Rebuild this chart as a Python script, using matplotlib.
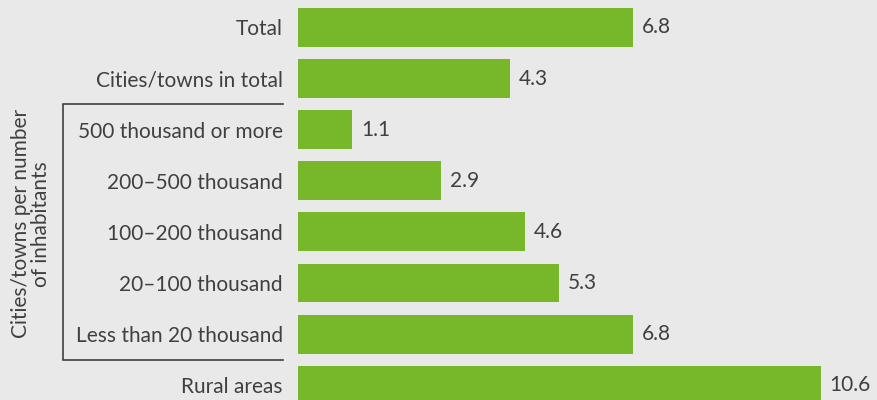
import matplotlib
matplotlib.use("Agg")
import matplotlib.pyplot as plt

categories = [
    "Total",
    "Cities/towns in total",
    "500 thousand or more",
    "200\u2013500 thousand",
    "100\u2013200 thousand",
    "20\u2013100 thousand",
    "Less than 20 thousand",
    "Rural areas",
]
values = [6.8, 4.3, 1.1, 2.9, 4.6, 5.3, 6.8, 10.6]
group_label = "Cities/towns per number\nof inhabitants"

BG = "#e9e9e9"
GREEN = "#77b82a"
TEXT = "#404040"
FS = 15

plt.rcParams["font.family"] = ["Lato", "DejaVu Sans"]

fig = plt.figure(figsize=(8.78, 4.0), dpi=100, facecolor=BG)
ax = fig.add_axes([298 / 878, 0, 580 / 878, 1])
ax.set_facecolor(BG)

pos = list(range(len(categories)))
ax.barh(pos, values, height=0.76, color=GREEN)
ax.set_xlim(0, 580 / 49.3)
ax.set_ylim(7.29, -0.538)

for y, v in zip(pos, values):
    ax.text(v + 0.18, y, f"{v:.1f}", va="center", ha="left",
            fontsize=FS, color=TEXT)

ax.set_yticks(pos)
ax.set_yticklabels(categories, fontsize=FS, color=TEXT)
ax.tick_params(axis="y", length=0, pad=11)
ax.set_xticks([])
for s in ax.spines.values():
    s.set_visible(False)

# bracket around the city-size group
tr = ax.get_yaxis_transform()
x0, x1 = (63 - 298) / 580, (283 - 298) / 580
ax.plot([x1, x0, x0, x1], [1.5, 1.5, 6.5, 6.5], transform=tr,
        color=TEXT, lw=1.2, clip_on=False, solid_joinstyle="miter")
ax.text((31 - 298) / 580, 3.84, group_label, transform=tr, rotation=90,
        ha="center", va="center", multialignment="center",
        fontsize=FS, color=TEXT, linespacing=0.95)

fig.savefig("out.png", dpi=100, facecolor=BG)
